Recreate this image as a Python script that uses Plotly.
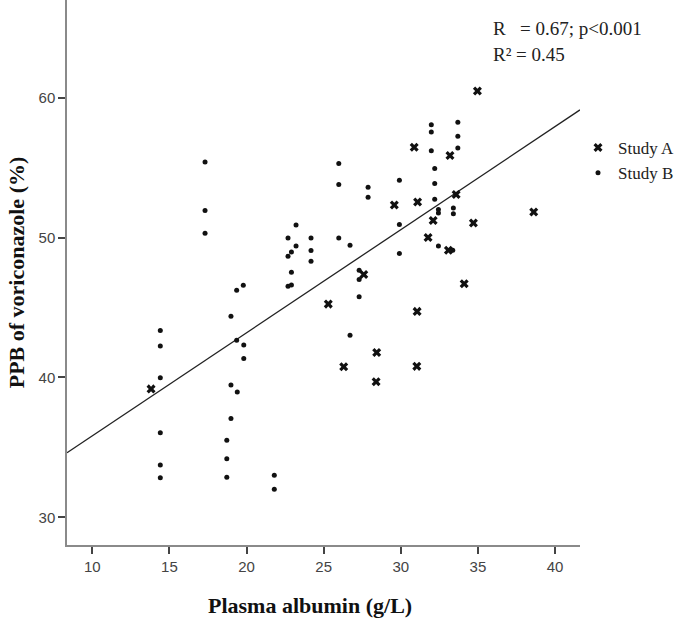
import plotly.graph_objects as go

# Study A (crosses)
study_a_x = [13.81, 25.30, 27.60, 28.44, 26.30, 28.40, 31.06, 31.04, 34.97, 30.87, 33.19,
             33.59, 29.58, 31.09, 32.10, 34.71, 31.77, 33.09, 34.11, 38.62]
study_a_y = [39.18, 45.24, 47.35, 41.78, 40.76, 39.69, 44.72, 40.79, 60.47, 56.45, 55.87,
             53.08, 52.33, 52.54, 51.22, 51.04, 50.00, 49.09, 46.69, 51.83]

# Study B (dots)
study_b_x = [17.31, 17.31, 17.31, 19.36, 19.79, 18.99, 14.41, 14.41, 19.36, 19.82, 19.82,
             14.41, 18.99, 19.40, 18.99, 14.41, 18.72, 18.72, 14.41, 14.41, 18.72, 21.80, 21.80,
             25.98, 25.98, 27.88, 27.88, 23.21, 22.69, 24.18, 25.98, 23.21, 22.91, 22.69, 24.18,
             24.18, 26.71, 22.91, 22.69, 22.91, 27.30, 27.30, 27.30, 26.71,
             31.98, 31.98, 33.70, 33.70, 33.70, 31.98, 32.20, 29.91, 32.20, 32.20, 32.44, 32.44,
             33.41, 33.41, 29.91, 29.91, 32.44, 33.37]
study_b_y = [55.40, 51.93, 50.31, 46.24, 46.59, 44.38, 43.36, 42.24, 42.66, 42.31, 41.36,
             39.97, 39.45, 38.95, 37.07, 36.04, 35.50, 34.19, 33.74, 32.83, 32.86, 33.00, 32.00,
             55.29, 53.79, 53.59, 52.88, 50.90, 49.97, 49.97, 49.97, 49.40, 48.97, 48.66, 49.07,
             48.31, 49.45, 47.52, 46.52, 46.60, 47.66, 47.00, 45.76, 43.02,
             58.07, 57.54, 58.24, 57.24, 56.40, 56.21, 54.93, 54.09, 53.86, 52.74, 52.00, 51.76,
             52.11, 51.70, 50.93, 48.86, 49.40, 49.09]

# Linear fit
fit_slope = 0.737
fit_intercept = 28.45
x_range = [8.36, 41.62]
y_range = [28.02, 66.98]

x_ticks = [10, 15, 20, 25, 30, 35, 40]
y_ticks = [30, 40, 50, 60]

stats_lines = ["R&nbsp;&nbsp; = 0.67; p&lt;0.001", "R² = 0.45"]
x_title = "Plasma albumin (g/L)"
y_title = "PPB of voriconazole (%)"

fit_x = x_range
fit_y = [fit_intercept + fit_slope * v for v in fit_x]

serif = "Liberation Serif, Times New Roman, serif"
sans = "Liberation Sans, Arial, sans-serif"

L, R, T, B = 67, 100, 0, 74
W, H = 680, 619
pw, ph = W - L - R, H - T - B

fig = go.Figure()
fig.add_trace(go.Scatter(x=fit_x, y=fit_y, mode="lines",
                         line=dict(color="#222222", width=1.3),
                         showlegend=False, hoverinfo="skip"))
fig.add_trace(go.Scatter(x=study_a_x, y=study_a_y, mode="markers", name="Study A",
                         marker=dict(symbol="x", size=8, color="#111111",
                                     line=dict(width=0))))
fig.add_trace(go.Scatter(x=study_b_x, y=study_b_y, mode="markers", name="Study B",
                         marker=dict(symbol="circle", size=5, color="#111111")))

fig.update_layout(
    width=W, height=H,
    margin=dict(l=L, r=R, t=T, b=B),
    paper_bgcolor="white", plot_bgcolor="white",
    legend=dict(x=(578 - L) / pw, y=(H - B - 130) / ph, xanchor="left", yanchor="top",
                font=dict(family=serif, size=17, color="#222"),
                itemwidth=30, tracegroupgap=0, bgcolor="rgba(0,0,0,0)"),
)
for txt, py in zip(stats_lines, [28, 55]):
    fig.add_annotation(text=txt, x=(491 - L) / pw, y=(H - B - py) / ph,
                       xref="paper", yref="paper", xanchor="left", yanchor="middle",
                       showarrow=False, font=dict(family=serif, size=19, color="#222"))

fig.add_annotation(text="<b>" + x_title + "</b>", x=(310 - L) / pw, y=(H - B - 605) / ph,
                   xref="paper", yref="paper", xanchor="center", yanchor="middle",
                   showarrow=False, font=dict(family=serif, size=22, color="#111"))

fig.update_xaxes(range=x_range, tickvals=x_ticks, showgrid=False, zeroline=False,
                 showline=True, linecolor="#8a8a8a", linewidth=1.5,
                 ticks="outside", ticklen=7, tickwidth=2, tickcolor="#444",
                 tickfont=dict(family=sans, size=15, color="#444"))
fig.update_yaxes(range=y_range, tickvals=y_ticks, showgrid=False, zeroline=False,
                 showline=True, linecolor="#8a8a8a", linewidth=1.5,
                 ticks="outside", ticklen=7, tickwidth=2, tickcolor="#444",
                 tickfont=dict(family=sans, size=15, color="#444"),
                 title=dict(text="<b>" + y_title + "</b>",
                            font=dict(family=serif, size=22, color="#111"), standoff=8))

fig.write_html("out.html", config={"displayModeBar": False},
               post_script="document.body.style.margin='0';document.body.style.overflow='hidden';")
